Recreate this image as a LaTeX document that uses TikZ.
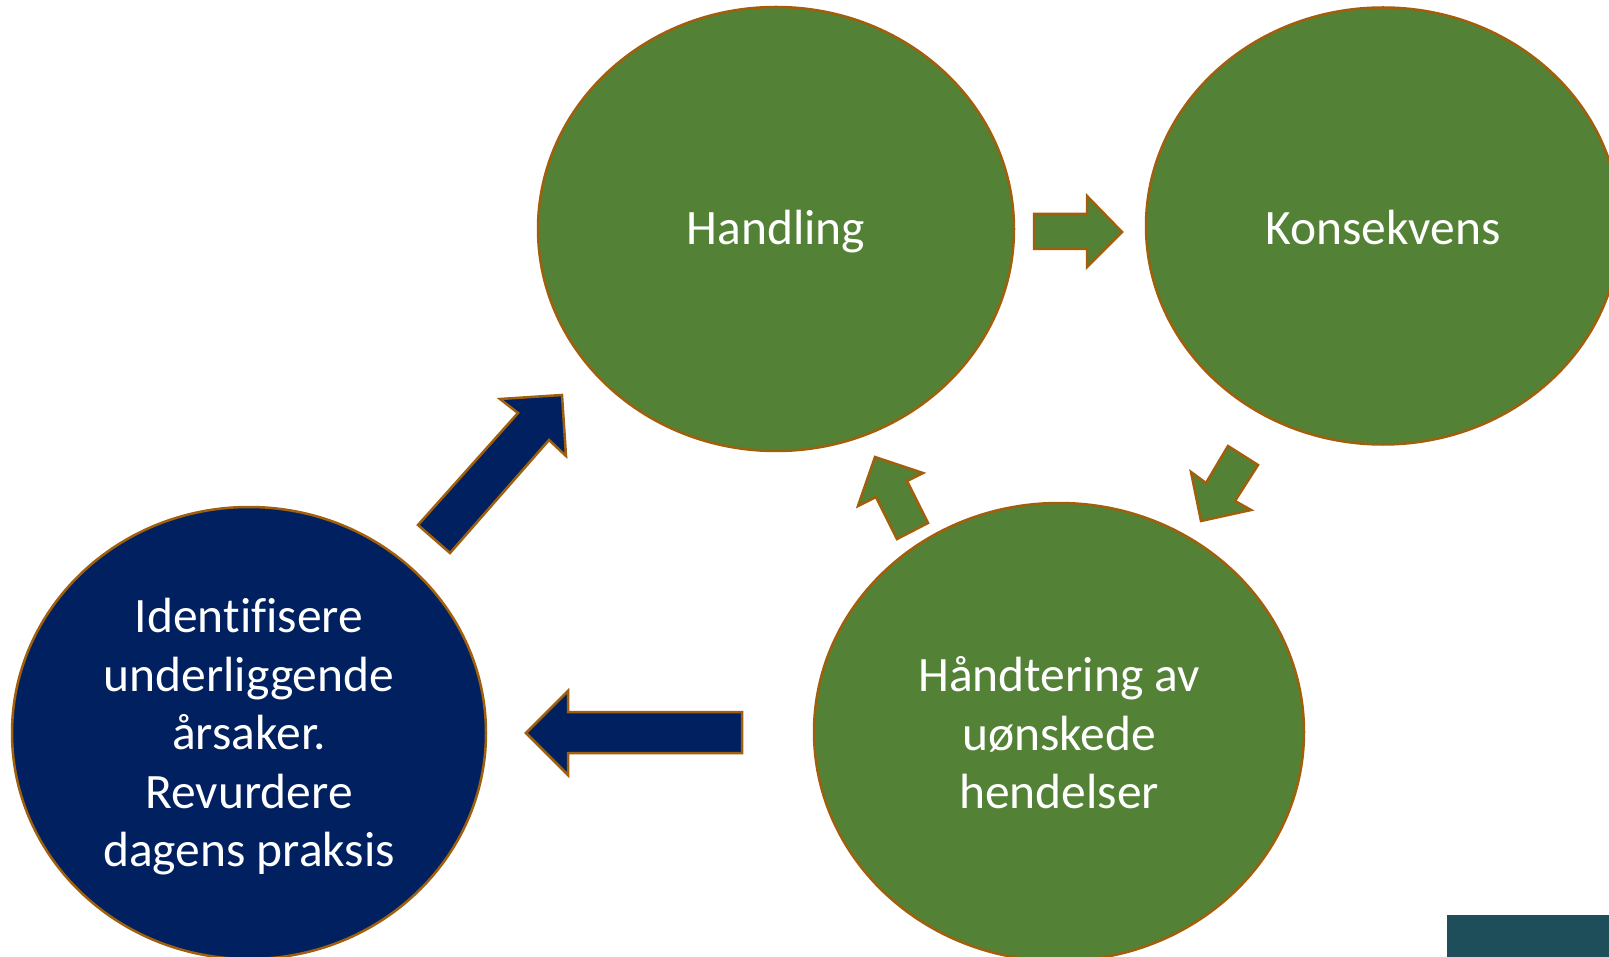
\documentclass[tikz,border=0pt]{standalone}
\usepackage{fontspec}
\setmainfont{Carlito}[Ligatures=NoCommon]
\usetikzlibrary{shapes.geometric}
\definecolor{cgreen}{HTML}{538135}
\definecolor{cblue}{HTML}{002060}
\definecolor{cedge}{HTML}{A05F0C}
\definecolor{cteal}{HTML}{1D4E5A}
\tikzset{
  blob/.style={ellipse, draw=cedge, line width=2.5pt, inner sep=0pt},
  greenblob/.style={blob, fill=cgreen},
  blueblob/.style={blob, fill=cblue},
  txt/.style={text=white, align=center, inner sep=0pt, font=\fontsize{49.5}{58.5}\selectfont},
  greenarrow/.style={fill=cgreen, draw=cedge, line width=2.5pt, line join=miter},
  bluearrow/.style={fill=cblue, draw=cedge, line width=2.5pt, line join=miter}
}
\begin{document}
\begin{tikzpicture}[x=1pt,y=-1pt]
\useasboundingbox (0,0) rectangle (1609,957);
\clip (0,0) rectangle (1609,957);
\fill[white] (0,0) rectangle (1609,957);

\node[greenblob, minimum width=476pt, minimum height=444pt] (handling) at (776,229) {};
\node[greenblob, minimum width=474pt, minimum height=437pt] (konsekvens) at (1383,226) {};
\node[greenblob, minimum width=490pt, minimum height=458pt] (handtering) at (1059,732) {};
\node[blueblob, minimum width=474pt, minimum height=452pt] (identifisere) at (249,733) {};

\node[txt] (handlingtext) at ([yshift=-3pt]handling.center) {Handling};
\node[txt] (konsekvenstext) at ([yshift=-1pt]konsekvens.center) {Konsekvens};
\node[txt] (handteringtext) at ([yshift=-1pt]handtering.center) {Håndtering av\\uønskede\\hendelser};
\node[txt] (identifiseretext) at ([yshift=-4pt]identifisere.center) {Identifisere\\underliggende\\årsaker.\\Revurdere\\dagens praksis};

% right arrow Handling -> Konsekvens
\draw[greenarrow] (1034,214) -- (1087,214) -- (1087,196) -- (1122,232) -- (1087,267) -- (1087,249) -- (1034,249) -- cycle;
% down-left arrow Konsekvens -> Handtering
\draw[greenarrow] (1228,446) -- (1258,465) -- (1235,501) -- (1251,510) -- (1201,521) -- (1191,472) -- (1206,483) -- cycle;
% up-left arrow Handtering -> Handling
\draw[greenarrow] (875,457) -- (923,473) -- (907,481) -- (928,523) -- (897,539) -- (876,497) -- (858,506) -- cycle;
% blue up-right arrow Identifisere -> Handling
\draw[bluearrow] (562,395) -- (566,456) -- (549,440) -- (450,553) -- (418,525) -- (518,413) -- (500,399) -- cycle;
% blue left arrow Handtering -> Identifisere
\draw[bluearrow] (526,733) -- (568,691) -- (568,712) -- (742,712) -- (742,753) -- (568,753) -- (568,775) -- cycle;

% teal corner block
\fill[cteal] (1447,915) rectangle (1609,957);
\end{tikzpicture}
\end{document}
